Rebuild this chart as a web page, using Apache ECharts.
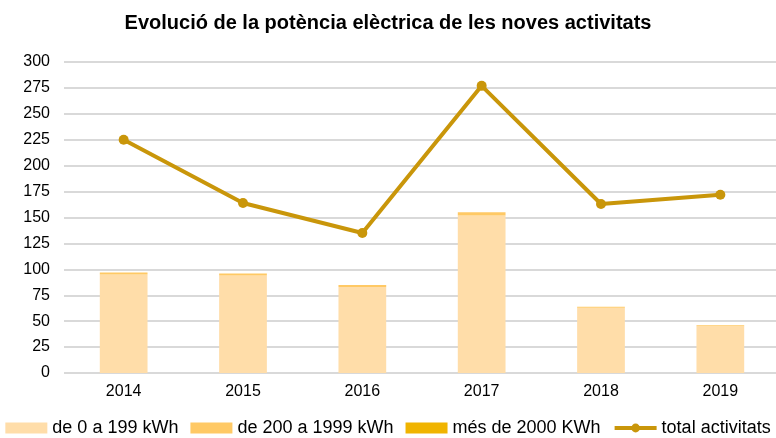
<!DOCTYPE html>
<html>
<head>
<meta charset="utf-8">
<script src="https://cdn.jsdelivr.net/npm/echarts@6/dist/echarts.min.js"></script>
<style>
  html, body { margin: 0; padding: 0; background: #fff; }
  #chart { width: 776px; height: 438px; }
</style>
</head>
<body>
<div id="chart"></div>
<script>
// dades llegides del gràfic
var years = ['2014', '2015', '2016', '2017', '2018', '2019'];
var baixa = [95, 94, 83, 152, 63, 45];      // de 0 a 199 kWh
var mitjana = [2, 2, 2, 3, 1, 1];           // de 200 a 1999 kWh
var alta = [0, 0, 0, 0, 0, 0];              // més de 2000 KWh
var total = [225, 164, 135, 277, 163, 172]; // total activitats

var font = '"Liberation Sans", Arial, sans-serif';
var chart = echarts.init(document.getElementById('chart'));

chart.setOption({
    animation: false,
    title: {
        text: 'Evolució de la potència elèctrica de les noves activitats',
        left: 'center',
        top: 8,
        textStyle: { fontFamily: font, fontSize: 20, fontWeight: 'bold', color: '#000' }
    },
    legend: {
        bottom: 1,
        padding: 0,
        left: 'center',
        itemWidth: 42,
        itemHeight: 11,
        itemGap: 12,
        textStyle: { fontFamily: font, fontSize: 18, color: '#000' },
        data: [
            { name: 'de 0 a 199 kWh', icon: 'rect' },
            { name: 'de 200 a 1999 kWh', icon: 'rect' },
            { name: 'més de 2000 KWh', icon: 'rect' },
            { name: 'total activitats', lineStyle: { width: 4 } }
        ]
    },
    grid: { left: 64, width: 716, top: 62, bottom: 65, outerBoundsMode: 'none' },
    xAxis: {
        type: 'category',
        data: years,
        axisLine: { show: false },
        axisTick: { show: false },
        axisLabel: { fontFamily: font, fontSize: 16, color: '#000', margin: 11 }
    },
    yAxis: {
        type: 'value',
        min: 0,
        max: 300,
        interval: 25,
        axisLabel: { fontFamily: font, fontSize: 16, color: '#000', margin: 14 },
        splitLine: { lineStyle: { color: '#d9d9d9', width: 2 } }
    },
    series: [
        {
            name: 'de 0 a 199 kWh', type: 'bar', stack: 'p', barWidth: '40%',
            itemStyle: { color: '#FFDDA9' }, data: baixa
        },
        {
            name: 'de 200 a 1999 kWh', type: 'bar', stack: 'p',
            itemStyle: { color: '#FFC965' }, data: mitjana
        },
        {
            name: 'més de 2000 KWh', type: 'bar', stack: 'p',
            itemStyle: { color: '#F0B400' }, data: alta
        },
        {
            name: 'total activitats', type: 'line',
            symbol: 'circle', symbolSize: 10,
            lineStyle: { color: '#C9960A', width: 4 },
            itemStyle: { color: '#C9960A' },
            data: total
        }
    ]
});
</script>
</body>
</html>
